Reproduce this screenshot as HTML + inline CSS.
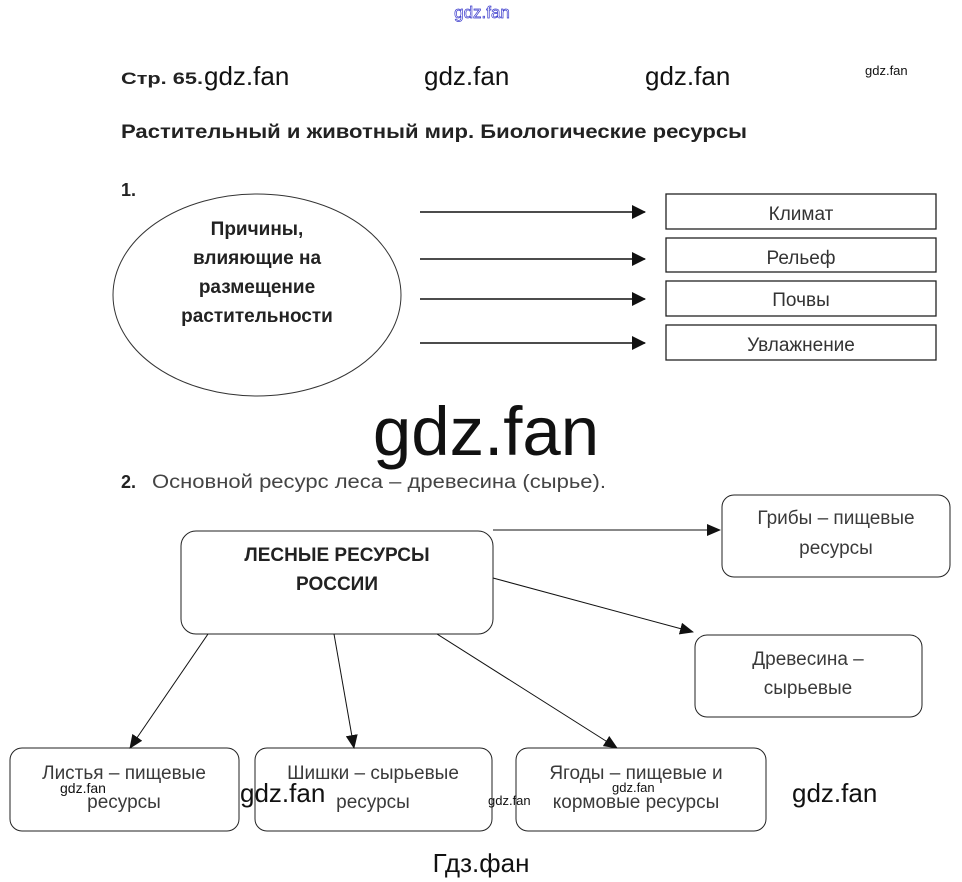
<!DOCTYPE html>
<html><head><meta charset="utf-8"><style>
html,body{margin:0;padding:0;background:#fff;}
svg{display:block;}
text{font-family:"Liberation Sans",sans-serif;}
</style></head><body>
<svg width="962" height="882" viewBox="0 0 962 882" xmlns="http://www.w3.org/2000/svg">
<defs><marker id="a" markerWidth="14" markerHeight="14" refX="13" refY="7" orient="auto" markerUnits="userSpaceOnUse"><path d="M0,0 L14,7 L0,14 Z" fill="#111"/></marker>
<marker id="b" markerWidth="14" markerHeight="12" refX="13" refY="6" orient="auto" markerUnits="userSpaceOnUse"><path d="M0,0 L14,6 L0,12 Z" fill="#111"/></marker></defs>
<text x="482" y="18" font-size="17" text-anchor="middle" fill="#fff" stroke="#3a3acc" stroke-width="0.7">gdz.fan</text>
<text x="121" y="84" font-size="17" font-weight="bold" fill="#222" textLength="82" lengthAdjust="spacingAndGlyphs">Стр. 65.</text>
<text x="204" y="85" font-size="26" fill="#111">gdz.fan</text>
<text x="424" y="85" font-size="26" fill="#111">gdz.fan</text>
<text x="645" y="85" font-size="26" fill="#111">gdz.fan</text>
<text x="865" y="75" font-size="13" fill="#111">gdz.fan</text>
<text x="121" y="138" font-size="19" font-weight="bold" fill="#222" textLength="626" lengthAdjust="spacingAndGlyphs">Растительный и животный мир. Биологические ресурсы</text>
<text x="121" y="196" font-size="18" font-weight="bold" fill="#222">1.</text>
<ellipse cx="257" cy="295" rx="144" ry="101" fill="none" stroke="#333" stroke-width="1"/>
<g font-size="19" font-weight="bold" fill="#222" text-anchor="middle">
<text x="257" y="235">Причины,</text><text x="257" y="264">влияющие на</text><text x="257" y="293">размещение</text><text x="257" y="322">растительности</text></g>
<g stroke="#111" stroke-width="1.5">
<line x1="420" y1="212" x2="645" y2="212" marker-end="url(#a)"/>
<line x1="420" y1="259" x2="645" y2="259" marker-end="url(#a)"/>
<line x1="420" y1="299" x2="645" y2="299" marker-end="url(#a)"/>
<line x1="420" y1="343" x2="645" y2="343" marker-end="url(#a)"/></g>
<g fill="none" stroke="#222" stroke-width="1.3">
<rect x="666" y="194" width="270" height="35"/><rect x="666" y="238" width="270" height="34"/>
<rect x="666" y="281" width="270" height="35"/><rect x="666" y="325" width="270" height="35"/></g>
<g font-size="19" fill="#333" text-anchor="middle">
<text x="801" y="220">Климат</text><text x="801" y="264">Рельеф</text><text x="801" y="306">Почвы</text><text x="801" y="351">Увлажнение</text></g>
<text x="486" y="455" font-size="69" fill="#111" text-anchor="middle">gdz.fan</text>
<text x="121" y="488" font-size="18" font-weight="bold" fill="#222">2.</text>
<text x="152" y="488" font-size="19" fill="#444" textLength="454" lengthAdjust="spacingAndGlyphs">Основной ресурс леса – древесина (сырье).</text>
<g fill="none" stroke="#222" stroke-width="1">
<rect x="181" y="531" width="312" height="103" rx="15"/>
<rect x="722" y="495" width="228" height="82" rx="12"/>
<rect x="695" y="635" width="227" height="82" rx="12"/>
<rect x="10" y="748" width="229" height="83" rx="12"/>
<rect x="255" y="748" width="237" height="83" rx="12"/>
<rect x="516" y="748" width="250" height="83" rx="12"/></g>
<g font-size="19" font-weight="bold" fill="#222" text-anchor="middle">
<text x="337" y="561">ЛЕСНЫЕ РЕСУРСЫ</text><text x="337" y="590">РОССИИ</text></g>
<g stroke="#111" stroke-width="1">
<line x1="493" y1="530" x2="720" y2="530" marker-end="url(#b)"/>
<line x1="493" y1="578" x2="693" y2="632" marker-end="url(#b)"/>
<line x1="208" y1="634" x2="130" y2="748" marker-end="url(#b)"/>
<line x1="334" y1="634" x2="354" y2="748" marker-end="url(#b)"/>
<line x1="437" y1="634" x2="617" y2="748" marker-end="url(#b)"/></g>
<g font-size="19" fill="#3a3a3a" text-anchor="middle">
<text x="836" y="524">Грибы – пищевые</text><text x="836" y="554">ресурсы</text>
<text x="808" y="665">Древесина –</text><text x="808" y="694">сырьевые</text>
<text x="124" y="779">Листья – пищевые</text><text x="124" y="808">ресурсы</text>
<text x="373" y="779">Шишки – сырьевые</text><text x="373" y="808">ресурсы</text>
<text x="636" y="779">Ягоды – пищевые и</text><text x="636" y="808">кормовые ресурсы</text></g>
<g fill="#111">
<text x="60" y="793" font-size="14">gdz.fan</text>
<text x="240" y="802" font-size="26">gdz.fan</text>
<text x="488" y="805" font-size="13">gdz.fan</text>
<text x="612" y="792" font-size="13">gdz.fan</text>
<text x="792" y="802" font-size="26">gdz.fan</text>
<text x="481" y="872" font-size="26" text-anchor="middle">Гдз.фан</text></g>
</svg>
</body></html>
